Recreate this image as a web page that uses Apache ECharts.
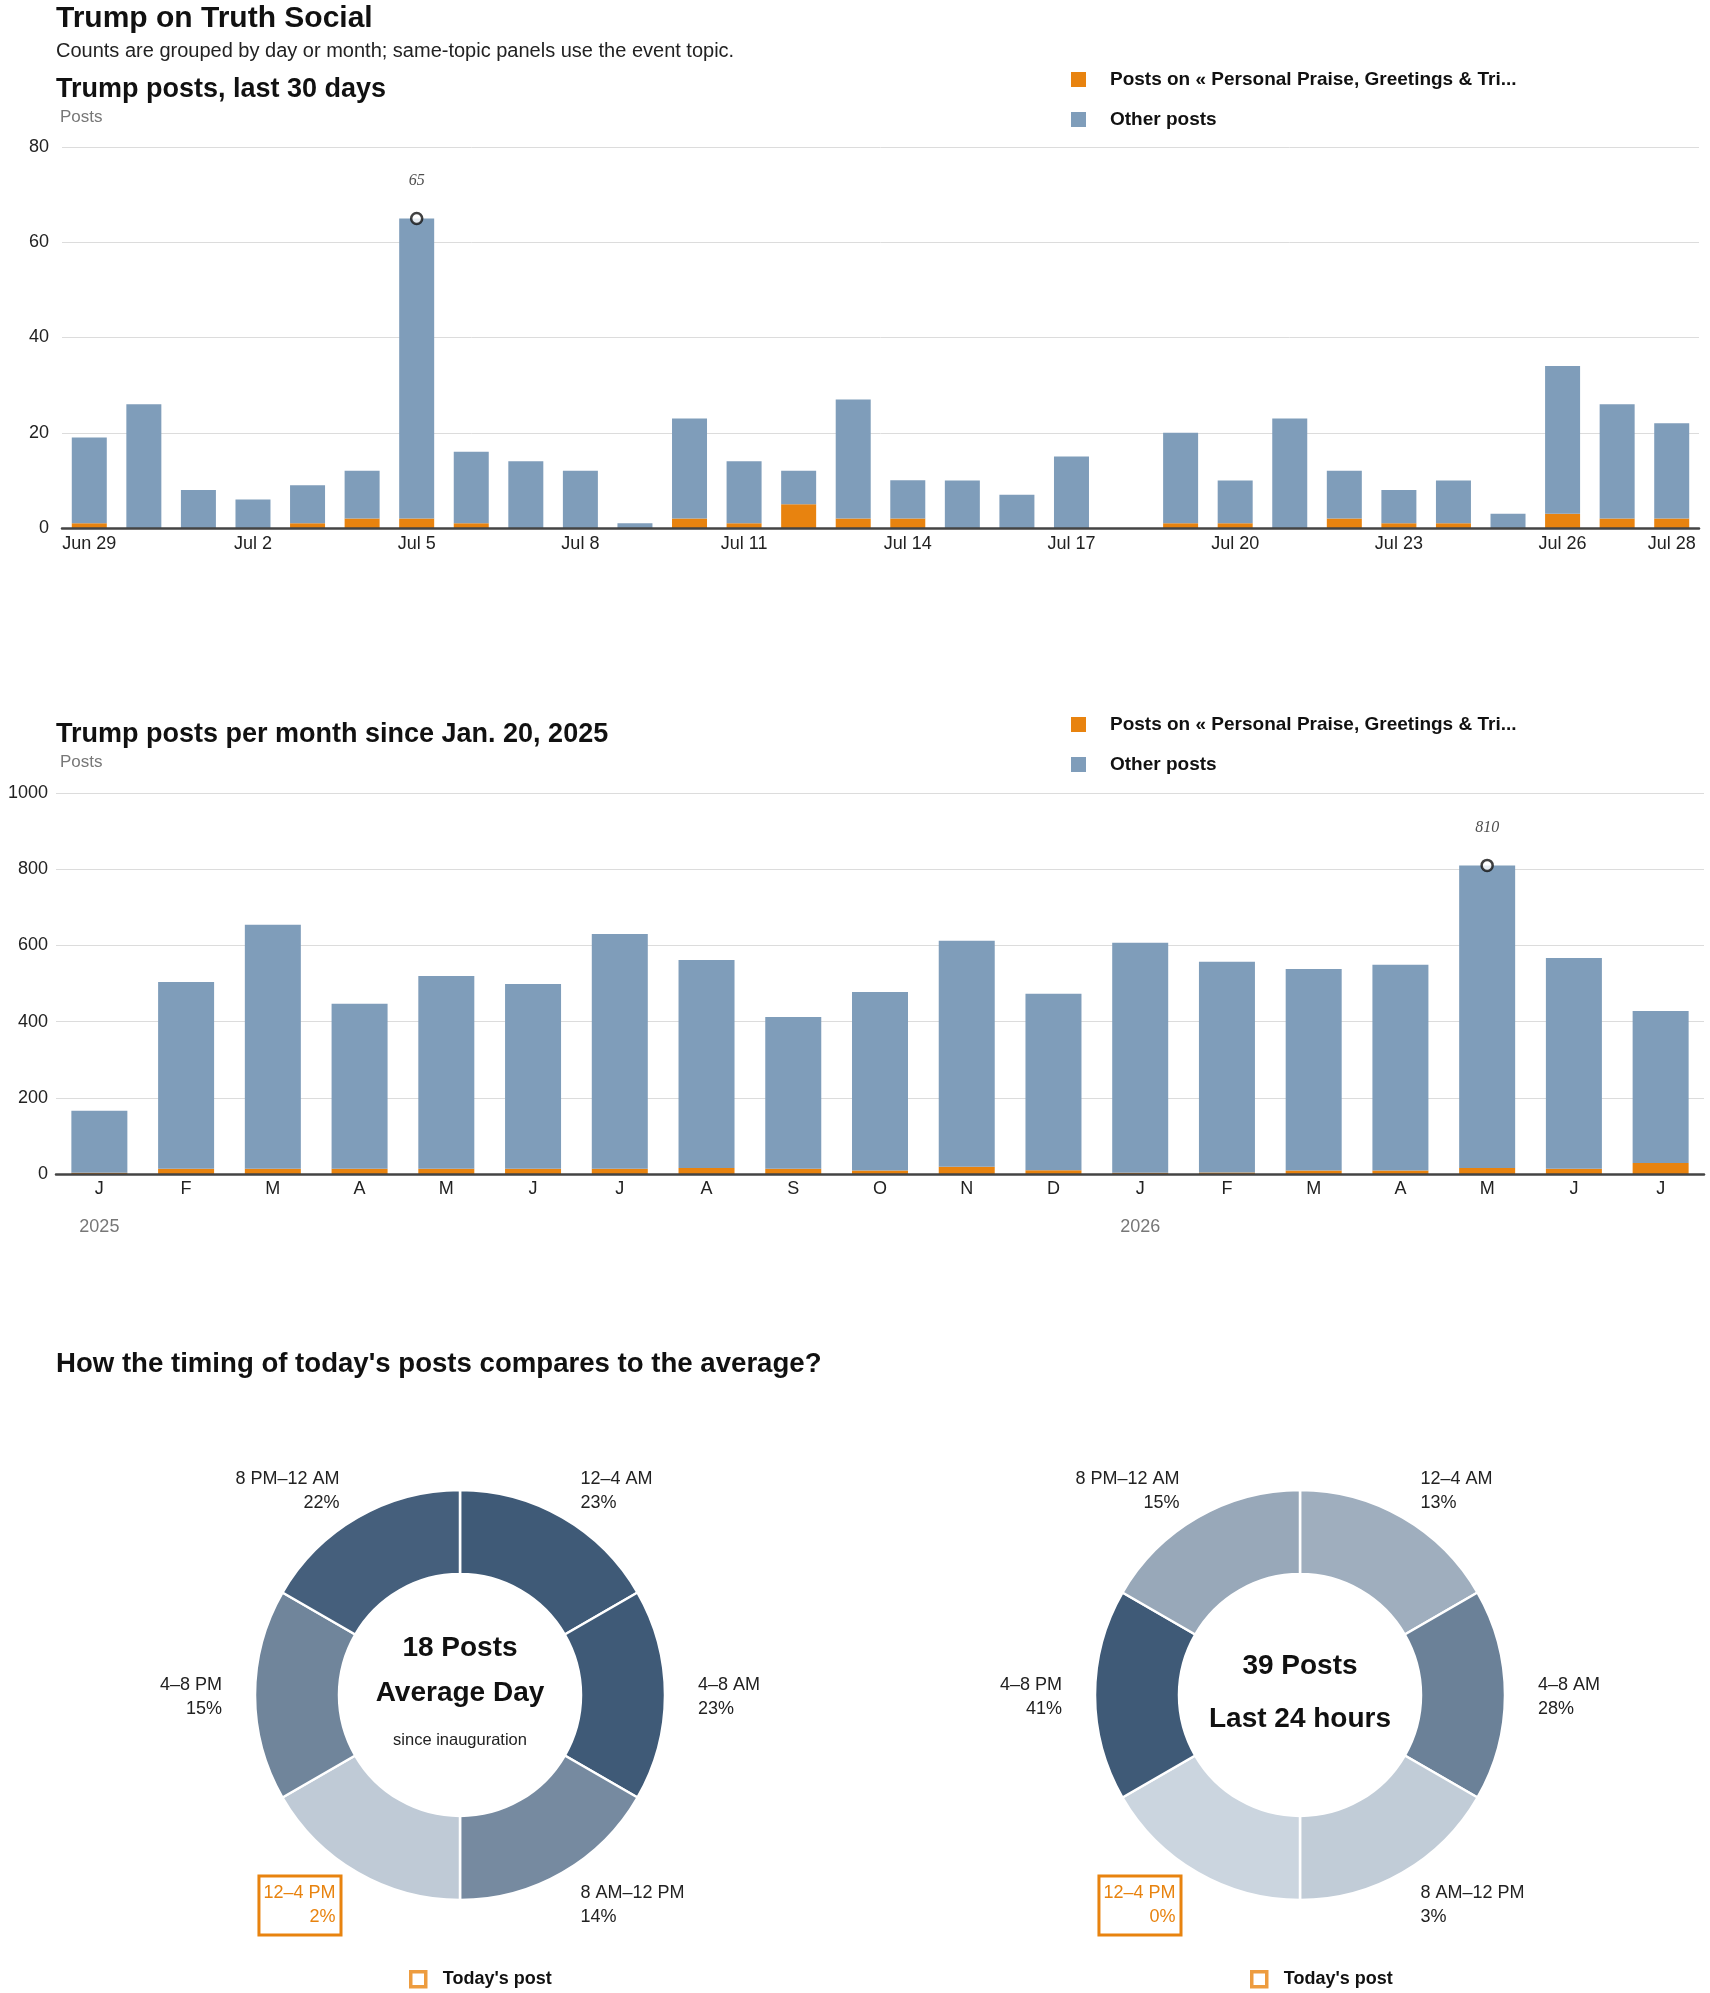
<!DOCTYPE html>
<html>
<head>
<meta charset="utf-8">
<title>Trump on Truth Social</title>
<script src="https://cdn.jsdelivr.net/npm/echarts@6/dist/echarts.min.js"></script>
<style>
  html, body { margin: 0; padding: 0; background: #fff; }
  #chart { width: 1710px; height: 1993px; }
</style>
</head>
<body>
<div id="chart"></div>
<script>
// --- data: last 30 days ---
const dayLabels = ['Jun 29', 'Jun 30', 'Jul 1', 'Jul 2', 'Jul 3', 'Jul 4', 'Jul 5', 'Jul 6', 'Jul 7', 'Jul 8',
  'Jul 9', 'Jul 10', 'Jul 11', 'Jul 12', 'Jul 13', 'Jul 14', 'Jul 15', 'Jul 16', 'Jul 17', 'Jul 18',
  'Jul 19', 'Jul 20', 'Jul 21', 'Jul 22', 'Jul 23', 'Jul 24', 'Jul 25', 'Jul 26', 'Jul 27', 'Jul 28'];
const topicDaily = [1, 0, 0, 0, 1, 2, 2, 1, 0, 0, 0, 2, 1, 5, 2, 2, 0, 0, 0, 0, 1, 1, 0, 2, 1, 1, 0, 3, 2, 2];
const otherDaily = [18, 26, 8, 6, 8, 10, 63, 15, 14, 12, 1, 21, 13, 7, 25, 8, 10, 7, 15, 0, 19, 9, 23, 10, 7, 9, 3, 31, 24, 20];

// --- data: per month since Jan. 20, 2025 ---
const monthKeys = ['2025-01', '2025-02', '2025-03', '2025-04', '2025-05', '2025-06', '2025-07', '2025-08', '2025-09',
  '2025-10', '2025-11', '2025-12', '2026-01', '2026-02', '2026-03', '2026-04', '2026-05', '2026-06', '2026-07'];
const monthLetters = ['J', 'F', 'M', 'A', 'M', 'J', 'J', 'A', 'S', 'O', 'N', 'D', 'J', 'F', 'M', 'A', 'M', 'J', 'J'];
const yearLabels = ['2025', '', '', '', '', '', '', '', '', '', '', '', '2026', '', '', '', '', '', ''];
const topicMonthly = [3, 14, 14, 14, 14, 14, 14, 16, 14, 9, 19, 10, 3, 4, 9, 9, 16, 14, 29];
const otherMonthly = [163, 490, 640, 433, 506, 485, 616, 546, 398, 469, 593, 463, 604, 553, 529, 540, 794, 553, 399];

// --- data: timing of posts (4-hour slots) ---
const slotLabels = ['12–4 AM', '4–8 AM', '8 AM–12 PM', '12–4 PM', '4–8 PM', '8 PM–12 AM'];
const slotHours = [4, 4, 4, 4, 4, 4];
const avgShare = [23, 23, 14, 2, 15, 22];
const last24Share = [13, 28, 3, 0, 41, 15];
const todaySlot = '12–4 PM';

const topicName = 'Posts on « Personal Praise, Greetings & Tri...';
const otherName = 'Other posts';
const todayName = "Today's post";

const FONT = '"Liberation Sans", Arial, sans-serif';
const ORANGE = '#e8830f';
const BLUE = '#7f9dba';

// total per bar and the peak, for the circled annotation
function peakPoint(a, b) {
  let best = 0;
  for (let i = 1; i < a.length; i++) {
    if (a[i] + b[i] > a[best] + b[best]) best = i;
  }
  return [best, a[best] + b[best]];
}

// light -> dark slate, by share of the busiest slot
function shadeFor(share, maxShare) {
  const t = maxShare ? share / maxShare : 0;
  const lo = [203, 213, 223], hi = [63, 90, 119];
  const c = lo.map((v, k) => Math.round(v + (hi[k] - v) * t));
  return 'rgb(' + c.join(',') + ')';
}

function titleText(text, left, top, size, weight, color, align) {
  return {
    text, left, top, padding: 0, textAlign: align || 'left',
    textStyle: { fontFamily: FONT, fontSize: size, fontWeight: weight, color: color || '#111' }
  };
}

function barLegend(top) {
  return {
    orient: 'vertical', left: 1066, top, itemWidth: 15, itemHeight: 15, itemGap: 21,
    icon: 'rect', selectedMode: false,
    data: [topicName, otherName],
    textStyle: { fontFamily: FONT, fontSize: 19, fontWeight: 'bold', color: '#111', padding: [0, 0, 0, 19] }
  };
}

function todayLegend(left) {
  return {
    left, top: 1965, itemWidth: 15, itemHeight: 15, selectedMode: false,
    data: [{ name: todayName, icon: 'rect', itemStyle: { color: '#fff', borderColor: ORANGE, borderWidth: 3.5 } }],
    textStyle: { fontFamily: FONT, fontSize: 18, fontWeight: 'bold', color: '#111', padding: [0, 0, 0, 12] }
  };
}

function peakSeries(xi, point) {
  return {
    type: 'scatter', xAxisIndex: xi, yAxisIndex: xi, silent: true, z: 6,
    symbol: 'circle', symbolSize: 11,
    itemStyle: { color: '#fff', borderColor: '#111', borderWidth: 2.5 },
    label: {
      show: true, position: 'top', distance: 23,
      formatter: p => p.value[1],
      fontFamily: '"Liberation Serif", Georgia, serif', fontStyle: 'italic', fontSize: 16, color: '#222'
    },
    data: [point]
  };
}

function timingPie(shares, cx) {
  const maxShare = Math.max(...shares);
  return {
    type: 'pie', center: [cx, 1695], radius: [121, 205], startAngle: 90, clockwise: true,
    avoidLabelOverlap: false, silent: true,
    itemStyle: { borderColor: '#fff', borderWidth: 2.5 },
    label: {
      show: true, position: 'outside', distanceToLabelLine: 3,
      formatter: p => {
        const key = p.name === todaySlot ? 'h' : 'n';
        return '{' + key + '|' + p.name + '}\n{' + key + '|' + shares[p.dataIndex] + '%}';
      },
      rich: {
        n: { fontFamily: FONT, fontSize: 18, color: '#222', lineHeight: 24 },
        h: { fontFamily: FONT, fontSize: 18, color: ORANGE, lineHeight: 24 }
      }
    },
    labelLine: { show: false, length: 30, length2: 0 },
    // nudge the lower and side labels down a little
    labelLayout: p => ({ dy: [0, 2, 7, 7, 2, 0][p.dataIndex] }),
    emphasis: { disabled: true },
    data: slotLabels.map((name, i) => {
      const item = { name, value: slotHours[i], itemStyle: { color: shadeFor(shares[i], maxShare) } };
      if (name === todaySlot) {
        item.label = { borderColor: ORANGE, borderWidth: 3, padding: [4, 4, 4, 3], backgroundColor: '#fff' };
      }
      return item;
    })
  };
}

const chart = echarts.init(document.getElementById('chart'), null, { renderer: 'canvas' });

const option = {
  animation: false,
  backgroundColor: '#fff',
  textStyle: { fontFamily: FONT },
  title: [
    titleText('Trump on Truth Social', 56, 4, 30, 'bold'),
    titleText('Counts are grouped by day or month; same-topic panels use the event topic.', 56, 41, 20, 'normal', '#222'),
    titleText('Trump posts, last 30 days', 56, 76, 27, 'bold'),
    titleText('Posts', 60, 109, 17, 'normal', '#777'),
    titleText('Trump posts per month since Jan. 20, 2025', 56, 721, 27, 'bold'),
    titleText('Posts', 60, 754, 17, 'normal', '#777'),
    titleText("How the timing of today's posts compares to the average?", 56, 1350, 27.6, 'bold'),
    titleText('18 Posts', 460, 1634, 28, 'bold', '#111', 'center'),
    titleText('Average Day', 460, 1679, 28, 'bold', '#111', 'center'),
    titleText('since inauguration', 460, 1732, 16.5, 'normal', '#222', 'center'),
    titleText('39 Posts', 1300, 1652, 28, 'bold', '#111', 'center'),
    titleText('Last 24 hours', 1300, 1705, 28, 'bold', '#111', 'center')
  ],
  legend: [barLegend(65), barLegend(710), todayLegend(404), todayLegend(1245)],
  grid: [
    { left: 62, top: 147, width: 1637, height: 381 },
    { left: 56, top: 793, width: 1648, height: 381 }
  ],
  xAxis: [
    {
      type: 'category', gridIndex: 0, data: dayLabels, z: 5,
      axisTick: { show: false },
      axisLine: { lineStyle: { color: '#444', width: 2.5 } },
      axisLabel: {
        interval: i => i % 3 === 0 || i === dayLabels.length - 1,
        fontFamily: FONT, fontSize: 18, color: '#222', margin: 7
      }
    },
    {
      type: 'category', gridIndex: 1, data: monthKeys, z: 5,
      axisTick: { show: false },
      axisLine: { lineStyle: { color: '#444', width: 2.5 } },
      axisLabel: {
        interval: 0, margin: 5,
        formatter: (v, i) => yearLabels[i]
          ? '{m|' + monthLetters[i] + '}\n{y|' + yearLabels[i] + '}'
          : '{m|' + monthLetters[i] + '}',
        rich: {
          m: { fontFamily: FONT, fontSize: 18, color: '#222', lineHeight: 20 },
          y: { fontFamily: FONT, fontSize: 18, color: '#777', lineHeight: 56 }
        }
      }
    }
  ],
  yAxis: [
    {
      type: 'value', gridIndex: 0, min: 0, max: 80, interval: 20,
      axisLine: { show: false }, axisTick: { show: false },
      splitLine: { lineStyle: { color: '#dcdcdc', width: 1 } },
      axisLabel: { fontFamily: FONT, fontSize: 18, color: '#222', margin: 13 }
    },
    {
      type: 'value', gridIndex: 1, min: 0, max: 1000, interval: 200,
      axisLine: { show: false }, axisTick: { show: false },
      splitLine: { lineStyle: { color: '#dcdcdc', width: 1 } },
      axisLabel: { fontFamily: FONT, fontSize: 18, color: '#222', margin: 8, formatter: v => String(v) }
    }
  ],
  series: [
    { name: topicName, type: 'bar', stack: 'day', xAxisIndex: 0, yAxisIndex: 0, barWidth: 35,
      itemStyle: { color: ORANGE }, silent: true, data: topicDaily },
    { name: otherName, type: 'bar', stack: 'day', xAxisIndex: 0, yAxisIndex: 0, barWidth: 35,
      itemStyle: { color: BLUE }, silent: true, data: otherDaily },
    peakSeries(0, peakPoint(topicDaily, otherDaily)),
    { name: topicName, type: 'bar', stack: 'month', xAxisIndex: 1, yAxisIndex: 1, barWidth: 56,
      itemStyle: { color: ORANGE }, silent: true, data: topicMonthly },
    { name: otherName, type: 'bar', stack: 'month', xAxisIndex: 1, yAxisIndex: 1, barWidth: 56,
      itemStyle: { color: BLUE }, silent: true, data: otherMonthly },
    peakSeries(1, peakPoint(topicMonthly, otherMonthly)),
    timingPie(avgShare, 460),
    timingPie(last24Share, 1300),
    { name: todayName, type: 'scatter', xAxisIndex: 0, yAxisIndex: 0, data: [] }
  ]
};

chart.setOption(option);
</script>
</body>
</html>
